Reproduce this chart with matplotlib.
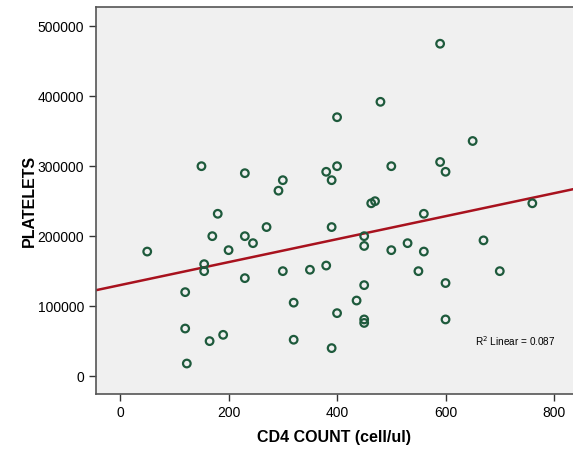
import numpy as np
import matplotlib
matplotlib.use("Agg")
import matplotlib.pyplot as plt

plt.rcParams['font.family'] = ['Liberation Sans', 'DejaVu Sans']

# CD4 count (cell/ul) vs platelets
cd4 = [50, 120, 120, 123, 150, 155, 155, 165, 170, 180, 190, 200, 230, 230, 230,
       245, 270, 292, 300, 300, 320, 320, 350, 380, 380, 390, 390, 390, 400, 400,
       400, 436, 450, 450, 450, 450, 450, 463, 470, 480, 500, 500, 530, 550, 560,
       560, 590, 590, 600, 600, 600, 650, 670, 700, 760]
platelets = [178000, 120000, 68000, 18000, 300000, 160000, 150000, 50000, 200000,
             232000, 59000, 180000, 290000, 200000, 140000, 190000, 213000, 265000,
             280000, 150000, 105000, 52000, 152000, 292000, 158000, 280000, 213000,
             40000, 370000, 300000, 90000, 108000, 200000, 186000, 130000, 81000,
             76000, 247000, 250000, 392000, 300000, 180000, 190000, 150000, 232000,
             178000, 475000, 306000, 292000, 133000, 81000, 336000, 194000, 150000,
             247000]
x_ticks = [0, 200, 400, 600, 800]
y_ticks = [0, 100000, 200000, 300000, 400000, 500000]
r2_text = "R$^2$ Linear = 0.087"

fig = plt.figure(figsize=(5.73, 4.51), dpi=100)
ax = fig.add_axes([0.167, 0.1257, 0.833, 0.858])
ax.set_facecolor('#f0f0f0')

ax.scatter(cd4, platelets, s=30, facecolors='none', edgecolors='#1e5a3c',
           linewidths=1.6, zorder=3)

# linear fit line
slope, icpt = np.polyfit(cd4, platelets, 1)
xl = np.array([-45, 835])
ax.plot(xl, slope * xl + icpt, color='#a8121e', lw=1.8, zorder=2)

ax.set_xlim(-45, 835)
ax.set_ylim(-26000, 527000)
ax.set_xticks(x_ticks)
ax.set_yticks(y_ticks)
ax.tick_params(direction='out', length=5, width=1, colors='#333333',
               labelsize=10, labelcolor='black')

for s in ['left', 'top', 'bottom']:
    ax.spines[s].set_color('#555555')
    ax.spines[s].set_linewidth(1.2)
ax.spines['right'].set_visible(False)

ax.set_xlabel('CD4 COUNT (cell/ul)', fontsize=11.5, fontweight='bold', labelpad=7)
ax.set_ylabel('PLATELETS', fontsize=11.5, fontweight='bold', labelpad=0)

ax.text(0.795, 0.125, r2_text, transform=ax.transAxes, fontsize=7.2)

fig.savefig('out.png', dpi=100)
